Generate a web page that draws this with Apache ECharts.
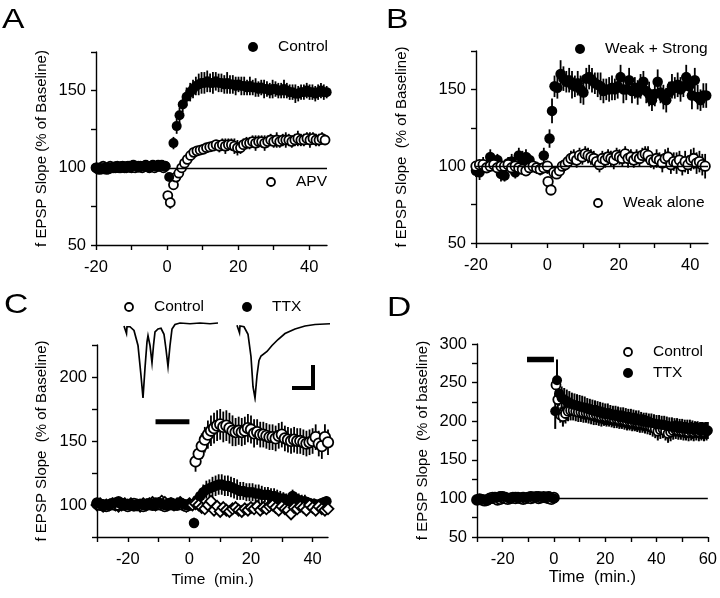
<!DOCTYPE html>
<html><head><meta charset="utf-8">
<script src="https://cdn.jsdelivr.net/npm/echarts@6/dist/echarts.min.js"></script>
<style>html,body{margin:0;padding:0;background:#fff}#c{width:720px;height:598px}</style>
</head><body><div id="c"></div>
<script>
// ---------- helpers for sampling times ----------
const seq = (start, step, n) => Array.from({length: n}, (_, i) => +(start + i * step).toFixed(2));

// ---------- Panel A ----------
const aBaseT = seq(-20, 0.5, 40);
const aCtrlBase = [100,99,100,99,99,100,100,99,100,100,100,101,100,100,101,101,100,101,101,100,101,102,101,101,100,101,101,101,102,101,100,101,102,101,101,102,101,102,101,101];
const aApvBase  = [100,100,99,100,101,100,99,100,101,100,100,100,101,100,100,101,100,100,101,101,100,101,100,101,101,101,100,101,101,101,100,101,101,100,101,101,101,101,100,101];
const aCtrlT = [0.6,1.8,2.7,3.5,4.4,5.5,6.5].concat(seq(7.3, 0.8, 48));
const aCtrl = [94,116,127,134,141,146,149,
  151,153,154,155,155,156,155,155,156,155,155,154,155,154,154,153,154,153,153,152,
  153,152,152,151,152,151,151,150,151,151,150,150,151,150,149,149,148,148,149,149,
  150,149,149,148,149,150,149,149];
const aCtrlErr = [2,4,5,5,5,6,6,
  6,6,7,7,7,7,6,7,6,6,6,6,7,6,6,6,5,6,6,5,6,5,6,5,5,6,5,5,6,5,5,5,6,5,5,5,6,5,5,5,5,5,5,5,5,5,5,4];
const aApvT = [0.2,0.9,1.8,2.5,3.3,4.1,4.9,5.7,6.6,7.5,8.4,9.3,10.2,11.1,12,12.9,13.8].concat(seq(14.7, 0.85, 36));
const aApv = [82,77.5,89,94,96.5,100,103,105.5,108,110,111,111.5,112,113,113.5,114,115,
  114,115,114,115,115,114,113,113,115,116,116,117,116,117,117,116,117,118,117,118,
  117,118,118,118,117,118,119,118,118,119,118,119,118,118,119,118];
const aApvErr = [2,4,3,3,2,2,2,2,2,2,2,3,3,3,3,3,3,
  4,4,5,4,4,5,5,4,4,4,4,4,5,4,4,5,4,4,4,5,4,4,5,4,4,4,5,4,4,4,5,4,4,4,4,3];

// ---------- Panel B ----------
const bBaseT = seq(-20, 1, 21);
const bStrongBase = [97,96,101,100,106,103,104,95,94,102,103,96,107,104,106,104,100,99,98,107,99];
const bStrongBaseErr = [4,5,5,4,5,4,4,5,4,4,5,4,5,6,5,4,4,4,4,5,4];
const bWeakBase = [100,101,101,99,100,101,99,100,100,101,99,100,99,98,97,99,100,99,98,99,100];
const bStrongT = [0.6,1.3,2,2.8,3.7].concat(seq(4.5, 0.8, 51));
const bStrong = [118,136,152,151,160,
  157,155,156,153,152,154,150,148,157,158,156,154,153,152,149,150,150,151,150,152,
  158,150,150,156,149,151,148,152,155,149,147,143,147,155,148,145,143,148,152,151,
  153,150,152,158,152,146,156,145,143,146,146];
const bStrongErr = [6,8,7,7,9,
  8,7,8,9,7,8,9,8,7,8,8,7,8,9,8,7,8,8,7,8,8,9,7,8,8,7,8,8,7,8,8,7,8,8,7,8,8,7,8,7,8,8,7,8,8,9,8,8,7,8,8];
const bWeakT = [0.2,1].concat(seq(1.8, 0.8, 54));
const bWeak = [90,84.5,
  96,95,97,100,101,103,105,106,104,107,106,108,107,106,105,103,101,105,104,106,
  105,104,107,106,105,108,105,106,104,106,105,107,108,107,104,103,105,104,102,105,
  106,101,103,102,104,100,103,101,104,105,102,103,101,100];
const bWeakErr = [3,3,
  3,3,3,4,4,4,5,5,5,5,5,5,5,5,5,5,5,5,5,5,5,6,5,5,5,5,6,5,5,5,5,5,5,6,5,5,6,5,6,6,6,6,6,7,6,6,7,6,7,7,7,7,7,8];

// ---------- Panel C ----------
const cBaseT = seq(-30, 1, 31);
const cTtxBase = [102,101,99,100,100,101,102,103,101,100,100,101,99,100,101,100,101,101,100,102,102,101,100,101,102,100,101,102,101,100,101];
const cCtrlBase = [101,100,100,99,100,101,100,100,101,100,99,100,101,100,100,99,100,101,100,100,101,100,99,100,101,100,100,101,100,99,100];
const cDiaBase = [100,101,99,100,100,101,100,99,100,101,100,101,100,100,99,101,100,101,102,100,101,103,102,100,101,100,101,102,100,99,101];
const cTtxT = [1.5].concat(seq(2.5, 1, 43));
const cTtx = [86,
  104,107,110,112,113,114,115,116,116,115,115,114,113,112,111,111,110,110,110,109,
  109,108,108,108,107,107,106,105,105,104,104,107,105,104,103,103,102,101,101,100,101,102,103];
const cTtxErr = [4,
  4,5,6,7,7,8,8,8,8,8,8,8,8,8,7,7,7,7,7,7,7,7,6,6,6,6,6,6,5,5,5,5,5,5,5,5,4,4,4,4,4,4,4];
const cCtrlT = seq(2, 1, 44);
const cCtrl = [134,140,146,151,155,158,160,162,163,161,162,160,158,157,158,157,158,160,159,156,
  157,155,155,154,153,153,152,154,155,152,151,150,151,150,150,149,148,149,150,153,148,146,153,149];
const cCtrlErr = [8,9,10,10,11,12,12,12,12,12,12,12,12,11,11,11,11,11,11,11,
  10,10,10,10,10,10,10,10,10,10,10,10,10,10,10,10,10,10,10,10,10,10,10,10];
const cDiaT = seq(1, 1, 45);
const cDia = [100,101,100,98,97,100,103,96,99,95,98,96,95,97,98,96,95,97,96,98,
  97,99,96,98,97,99,100,98,96,99,97,96,93,98,97,99,98,96,100,98,96,99,97,96,97];
const cBarT = [-11, 0], cBarY = 165;
// inset EPSP traces (arbitrary time units, normalised amplitude)
const trace1 = [[4,-0.04],[6,-0.04],[6.5,-0.14],[7,-0.05],[10,-0.05],[14,-0.1],[18,-0.3],[21,-0.7],[23,-1.0],[25,-0.6],[27,-0.25],[28,-0.17],[30,-0.3],[32,-0.53],[33.5,-0.3],[35,-0.12],[38,-0.08],[41,-0.07],[44,-0.15],[46,-0.35],[48,-0.58],[50,-0.3],[52,-0.08],[55,-0.02],[60,0.0],[70,-0.01],[80,0],[90,-0.01],[98,0]];
const trace2 = [[117,-0.03],[119,-0.03],[119.5,-0.13],[120,-0.04],[124,-0.05],[128,-0.15],[131,-0.45],[133,-0.85],[135,-1.0],[137,-0.7],[139,-0.5],[141,-0.44],[143,-0.42],[147,-0.38],[152,-0.3],[158,-0.22],[165,-0.14],[175,-0.08],[185,-0.04],[195,-0.02],[210,-0.01]];
const scaleBar = [[172,-0.867],[193,-0.867],[193,-0.56]];

// ---------- Panel D ----------
const dBaseT = seq(-30, 1, 31);
const dTtxBase = [98,98,99,98,97,99,100,102,101,103,103,102,101,100,101,102,101,101,102,101,102,103,102,101,103,102,101,102,103,101,100];
const dCtrlBase = [98,99,98,97,98,100,101,100,98,99,101,100,99,100,101,100,101,100,99,100,101,100,101,102,100,101,102,101,100,99,101];
const dTtxT = [0.5,1.2].concat(seq(2, 1, 59));
const dTtx = [213,253,
  236,230,228,226,224,222,221,220,219,218,217,216,215,214,213,212,211,210,209,209,
  208,207,207,206,205,205,204,203,203,202,201,201,200,199,199,198,198,197,196,196,
  195,195,194,193,193,192,192,191,191,190,190,190,189,189,189,188,188,188,188];
const dTtxErr = [23,27,
  16,15,15,15,15,15,15,15,15,15,15,14,14,14,14,14,14,14,14,14,13,13,13,13,13,13,13,13,13,13,
  13,13,12,12,12,12,12,12,12,12,12,12,12,12,12,12,12,12,12,12,12,12,12,11,11,11,11,11,11];
const dCtrlT = [0.8,1.5,2.5].concat(seq(3.5, 1, 57));
const dCtrl = [247,228,208,
  206,210,213,214,214,213,212,212,211,211,210,209,208,208,207,206,206,205,205,204,
  203,203,202,202,201,200,200,199,199,198,
  197,197,196,195,194,192,190,187,189,190,187,184,186,188,189,188,188,187,187,186,187,186,187,186,187,186,187];
const dCtrlErr = [10,12,10,
  13,13,13,13,13,13,13,13,13,13,13,13,13,13,13,13,12,12,12,12,12,12,12,12,12,12,12,12,12,12,
  12,12,12,12,12,12,12,12,12,12,12,12,12,12,12,12,12,12,12,12,12,12,12,12,12,12,12];
const dBarT = [-10.5, 0], dBarY = 280;

const refValue = 100;

// ---------- build ----------
const FONT = 'Liberation Sans, Arial, Helvetica, sans-serif';
const pts = (ts, vs) => ts.map((t, i) => [t, vs[i]]);
const tri = (ts, vs, es) => ts.map((t, i) => [t, vs[i], es[i]]);

const grids = [
  {left: 96, top: 52, width: 231, height: 193},
  {left: 476, top: 51, width: 232, height: 192},
  {left: 97, top: 345, width: 231, height: 192},
  {left: 477, top: 344, width: 232, height: 193},
  {left: 120, top: 319.25, width: 215, height: 82.5}
];

function xAx(gi, min, max, ticks, labels, name, nameGap, nameSize) {
  return {
    gridIndex: gi, type: 'value', min: min, max: max,
    axisLine: {show: true, onZero: false, lineStyle: {color: '#000', width: 1.4}},
    axisTick: {show: true, inside: false, length: 5, customValues: ticks, lineStyle: {color: '#000', width: 1.4}},
    axisLabel: {customValues: labels, color: '#000', fontSize: 16.5, fontFamily: FONT, margin: 14},
    splitLine: {show: false},
    name: name || '', nameLocation: 'middle', nameGap: nameGap || 30,
    nameTextStyle: {color: '#000', fontSize: nameSize || 15, fontFamily: FONT}
  };
}
function yAx(gi, min, max, ticks, labels, name, nameGap) {
  return {
    gridIndex: gi, type: 'value', min: min, max: max,
    axisLine: {show: true, onZero: false, lineStyle: {color: '#000', width: 1.4}},
    axisTick: {show: true, inside: false, length: 5, customValues: ticks, lineStyle: {color: '#000', width: 1.4}},
    axisLabel: {customValues: labels, color: '#000', fontSize: 16.5, fontFamily: FONT, margin: 10},
    splitLine: {show: false},
    name: name, nameLocation: 'middle', nameRotate: 90, nameGap: nameGap,
    nameTextStyle: {color: '#000', fontSize: 15, fontFamily: FONT}
  };
}

const xAxes = [
  xAx(0, -20, 45, [-20,-10,0,10,20,30,40], [-20,0,20,40]),
  xAx(1, -20, 45, [-20,-10,0,10,20,30,40], [-20,0,20,40]),
  xAx(2, -30, 45, [-30,-20,-10,0,10,20,30,40], [-20,0,20,40], 'Time  (min.)', 35, 15.5),
  xAx(3, -30, 60, [-30,-20,-10,0,10,20,30,40,50,60], [-20,0,20,40,60], 'Time  (min.)', 31, 16.5),
  {gridIndex: 4, type: 'value', min: 0, max: 215, show: false}
];
const yAxes = [
  yAx(0, 50, 175, [50,75,100,125,150,175], [50,100,150], 'f EPSP Slope (% of Baseline)', 47),
  yAx(1, 50, 175, [50,75,100,125,150,175], [50,100,150], 'f EPSP Slope  (% of Baseline)', 67),
  yAx(2, 75, 225, [75,100,125,150,175,200,225], [100,150,200], 'f EPSP Slope  (% of Baseline)', 48),
  yAx(3, 50, 300, [50,75,100,125,150,175,200,225,250,275,300], [50,100,150,200,250,300], 'f EPSP Slope  (% of baseline)', 47),
  {gridIndex: 4, type: 'value', min: -1.05, max: 0.05, show: false}
];

function errS(gi, data, w) {
  return {
    type: 'custom', xAxisIndex: gi, yAxisIndex: gi, data: data, silent: true,
    encode: {x: 0, y: 1},
    renderItem: function (params, api) {
      const x = api.value(0), y = api.value(1), e = api.value(2);
      const p1 = api.coord([x, y + e]), p2 = api.coord([x, y - e]);
      return {type: 'line', shape: {x1: p1[0], y1: p1[1], x2: p2[0], y2: p2[1]},
        style: {stroke: '#000', lineWidth: w || 1.8}};
    }
  };
}
function filledS(gi, data, size) {
  return {type: 'scatter', xAxisIndex: gi, yAxisIndex: gi, data: data, symbol: 'circle',
    symbolSize: size || 10, itemStyle: {color: '#000', opacity: 1}, silent: true};
}
function openS(gi, data, size, sym) {
  return {type: 'scatter', xAxisIndex: gi, yAxisIndex: gi, data: data, symbol: sym || 'circle',
    symbolSize: size || 9, itemStyle: {color: '#fff', borderColor: '#000', borderWidth: 1.8, opacity: 1}, silent: true};
}
function refLine(gi) {
  return {type: 'line', xAxisIndex: gi, yAxisIndex: gi, data: [], silent: true,
    markLine: {silent: true, symbol: 'none', label: {show: false}, animation: false,
      lineStyle: {color: '#000', width: 1.4, type: 'solid'}, data: [{yAxis: refValue}]}};
}
function barS(gi, ts, y, w) {
  return {type: 'line', xAxisIndex: gi, yAxisIndex: gi, data: ts.map(t => [t, y]), symbol: 'none',
    lineStyle: {color: '#000', width: w, cap: 'butt'}, silent: true};
}
function traceS(data, w) {
  return {type: 'line', xAxisIndex: 4, yAxisIndex: 4, data: data, symbol: 'none',
    lineStyle: {color: '#000', width: w, join: 'miter'}, silent: true};
}

const series = [
  // A
  refLine(0),
  openS(0, pts(aBaseT, aApvBase)),
  errS(0, tri(aApvT, aApv, aApvErr)),
  openS(0, pts(aApvT, aApv)),
  filledS(0, pts(aBaseT, aCtrlBase)),
  errS(0, tri(aCtrlT, aCtrl, aCtrlErr)),
  filledS(0, pts(aCtrlT, aCtrl)),
  // B
  refLine(1),
  errS(1, tri(bBaseT, bStrongBase, bStrongBaseErr)),
  filledS(1, pts(bBaseT, bStrongBase), 10.5),
  errS(1, tri(bStrongT, bStrong, bStrongErr)),
  filledS(1, pts(bStrongT, bStrong), 10.5),
  openS(1, pts(bBaseT, bWeakBase), 9.5),
  errS(1, tri(bWeakT, bWeak, bWeakErr)),
  openS(1, pts(bWeakT, bWeak), 9.5),
  // C
  openS(2, pts(cBaseT, cDiaBase), 11, 'diamond'),
  openS(2, pts(cBaseT, cCtrlBase), 10),
  filledS(2, pts(cBaseT, cTtxBase), 10.5),
  errS(2, tri(cTtxT, cTtx, cTtxErr)),
  filledS(2, pts(cTtxT, cTtx), 10.5),
  openS(2, pts(cDiaT, cDia), 11, 'diamond'),
  errS(2, tri(cCtrlT, cCtrl, cCtrlErr)),
  openS(2, pts(cCtrlT, cCtrl), 10.5),
  barS(2, cBarT, cBarY, 5),
  traceS(trace1, 1.7),
  traceS(trace2, 1.7),
  traceS(scaleBar, 4),
  // D
  refLine(3),
  openS(3, pts(dBaseT, dCtrlBase), 10),
  filledS(3, pts(dBaseT, dTtxBase), 10),
  errS(3, tri(dCtrlT, dCtrl, dCtrlErr), 2),
  openS(3, pts(dCtrlT, dCtrl), 9),
  errS(3, tri(dTtxT, dTtx, dTtxErr), 2),
  filledS(3, pts(dTtxT, dTtx), 10),
  barS(3, dBarT, dBarY, 5.5)
];

function legendItem(cx, cy, filled, text) {
  return [
    {type: 'circle', shape: {cx: cx, cy: cy, r: filled ? 5 : 4},
      style: filled ? {fill: '#000'} : {fill: '#fff', stroke: '#000', lineWidth: 1.8}},
    {type: 'text', x: cx + 25, y: cy, style: {text: text, fill: '#000', font: '15.5px ' + FONT, textVerticalAlign: 'middle', verticalAlign: 'middle'}}
  ];
}
function letter(x, y, t) {
  return {type: 'text', x: x, y: y, scaleX: 1.2, style: {text: t, fill: '#000', font: '28px ' + FONT, textVerticalAlign: 'top', verticalAlign: 'top'}};
}

const graphic = [].concat(
  letter(2, 6, 'A'), letter(386, 6, 'B'), letter(4, 291, 'C'), letter(387, 294, 'D'),
  legendItem(253, 47, true, 'Control'),
  legendItem(271, 182, false, 'APV'),
  legendItem(580, 49, true, 'Weak + Strong'),
  legendItem(598, 203, false, 'Weak alone'),
  legendItem(129, 307, false, 'Control'),
  legendItem(247, 307, true, 'TTX'),
  legendItem(628, 352, false, 'Control'),
  legendItem(628, 373, true, 'TTX')
);

const chart = echarts.init(document.getElementById('c'), null, {renderer: 'canvas'});
chart.setOption({
  animation: false,
  backgroundColor: '#fff',
  grid: grids,
  xAxis: xAxes,
  yAxis: yAxes,
  series: series,
  graphic: graphic
});
</script></body></html>
